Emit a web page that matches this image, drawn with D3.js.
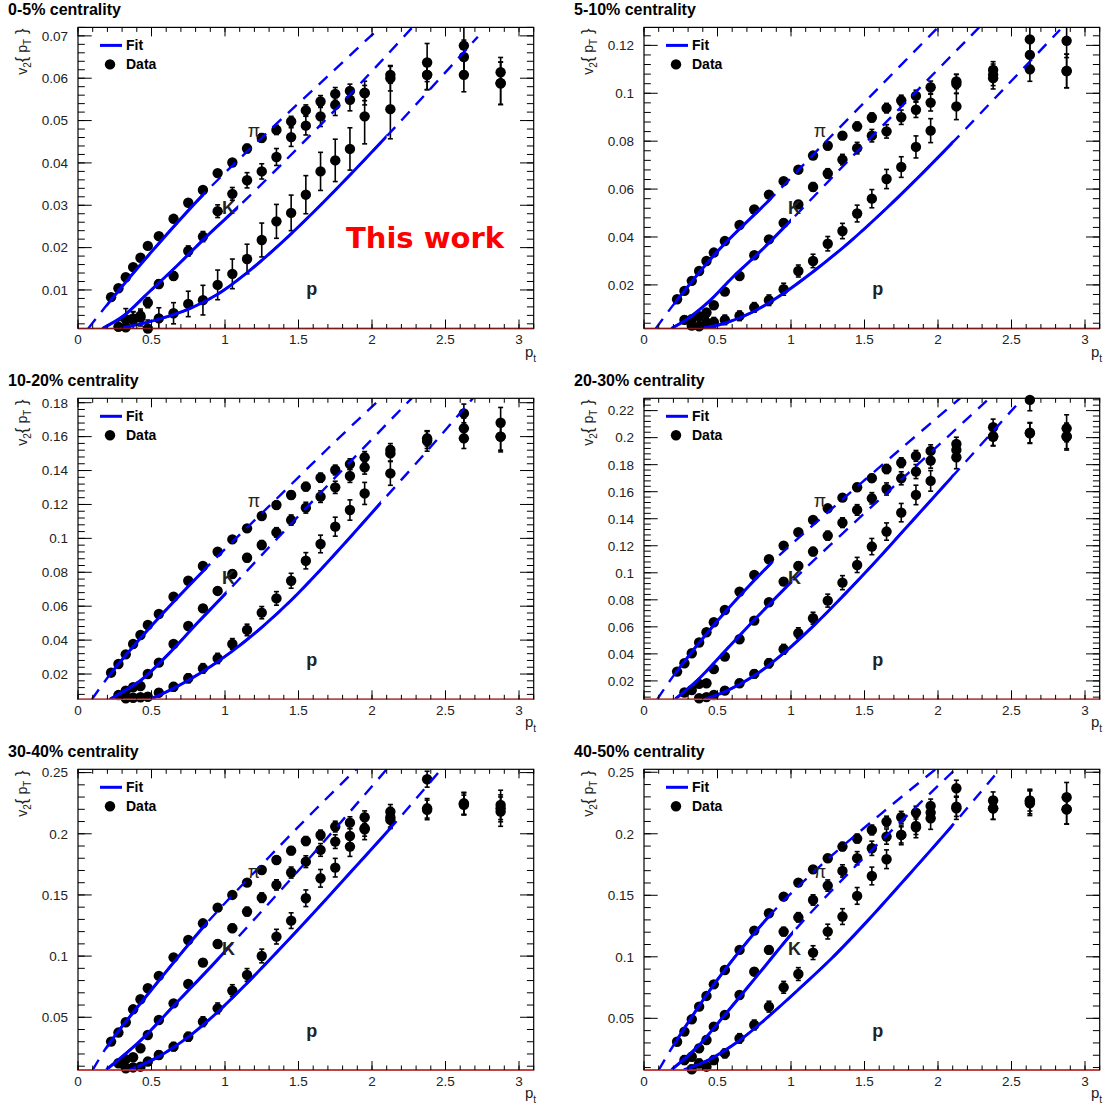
<!DOCTYPE html>
<html><head><meta charset="utf-8">
<script src="https://cdn.jsdelivr.net/npm/d3@7"></script>
<style>body{margin:0;background:#fff}</style>
</head><body><svg id="c" width="1103" height="1110"></svg>
<script>
// ---------------- DATA ----------------
const centralities = ["0-5%","5-10%","10-20%","20-30%","30-40%","40-50%"];
const ptPi = [0.225,0.275,0.325,0.375,0.425,0.475,0.55,0.65,0.75,0.85,0.95,1.05,1.15,1.25,1.35,1.45,1.55,1.65,1.75,1.85,1.95,2.125,2.375,2.625,2.875];
const ptK  = [0.275,0.325,0.375,0.425,0.475,0.55,0.65,0.75,0.85,0.95,1.05,1.15,1.25,1.35,1.45,1.55,1.65,1.75,1.85,1.95,2.125,2.375,2.625,2.875];
const ptP  = [0.325,0.375,0.425,0.475,0.55,0.65,0.75,0.85,0.95,1.05,1.15,1.25,1.35,1.45,1.55,1.65,1.75,1.85,1.95,2.125,2.375,2.625,2.875];
const xTicks = [0,0.5,1,1.5,2,2.5,3];
const xRange = [0,3.1];
const yRanges = [[0.0009,0.0720],[0.0018,0.1275],[0.0051,0.1826],[0.0064,0.2291],[0.0069,0.2527],[0.008,0.2524]];
const yTicks = [
 [0.01,0.02,0.03,0.04,0.05,0.06,0.07],
 [0.02,0.04,0.06,0.08,0.1,0.12],
 [0.02,0.04,0.06,0.08,0.1,0.12,0.14,0.16,0.18],
 [0.02,0.04,0.06,0.08,0.1,0.12,0.14,0.16,0.18,0.2,0.22],
 [0.05,0.1,0.15,0.2,0.25],
 [0.05,0.1,0.15,0.2,0.25]];

const piV2 = [
 [0.0083,0.0104,0.0130,0.0154,0.0176,0.0204,0.0227,0.0268,0.0306,0.0336,0.0376,0.0401,0.0434,0.0459,0.0478,0.0498,0.0524,0.0545,0.0563,0.0570,0.0565,0.0608,0.0637,0.0677,0.0614],
 [0.0140,0.0175,0.0217,0.0258,0.0300,0.0335,0.0383,0.0450,0.0515,0.0577,0.0633,0.0681,0.0740,0.0781,0.0823,0.0862,0.0899,0.0938,0.0970,0.0989,0.1025,0.1049,0.1097,0.1225,0.1219],
 [0.0208,0.0259,0.0316,0.0377,0.0430,0.0489,0.0554,0.0656,0.0750,0.0837,0.0921,0.0994,0.1059,0.1132,0.1197,0.1256,0.1305,0.1358,0.1403,0.1438,0.1478,0.1521,0.1590,0.1737,0.1682],
 [0.0269,0.0331,0.0405,0.0484,0.0560,0.0634,0.0725,0.0861,0.0984,0.1100,0.1201,0.1300,0.1391,0.1477,0.1556,0.1633,0.1700,0.1768,0.1815,0.1865,0.1902,0.1953,0.2077,0.2279,0.2069],
 [0.0301,0.0375,0.0459,0.0565,0.0647,0.0737,0.0838,0.0990,0.1132,0.1268,0.1396,0.1500,0.1601,0.1704,0.1786,0.1862,0.1941,0.1990,0.2059,0.2091,0.2135,0.2181,0.2446,0.2236,0.2236],
 [0.0310,0.0392,0.0492,0.0595,0.0682,0.0776,0.0893,0.1056,0.1213,0.1354,0.1489,0.1603,0.1711,0.1801,0.1896,0.1961,0.2031,0.2099,0.2134,0.2172,0.2226,0.2370,0.2270,0.2270,0.2297]];
const piErr = [
 [0.0004,0.0004,0.0004,0.0004,0.0005,0.0005,0.0005,0.0006,0.0006,0.0007,0.0007,0.0008,0.0010,0.0010,0.0011,0.0012,0.0013,0.0014,0.0015,0.0016,0.0018,0.0020,0.0045,0.0060,0.0035],
 [0.0006,0.0006,0.0006,0.0006,0.0007,0.0007,0.0008,0.0008,0.0009,0.0010,0.0010,0.0012,0.0013,0.0015,0.0016,0.0018,0.0019,0.0020,0.0022,0.0024,0.0026,0.0030,0.0035,0.0050,0.0070],
 [0.0008,0.0008,0.0008,0.0009,0.0009,0.0010,0.0010,0.0011,0.0012,0.0013,0.0014,0.0015,0.0017,0.0019,0.0021,0.0023,0.0025,0.0027,0.0029,0.0031,0.0034,0.0038,0.0045,0.0055,0.0090],
 [0.0010,0.0010,0.0011,0.0011,0.0012,0.0012,0.0013,0.0014,0.0015,0.0016,0.0018,0.0020,0.0022,0.0024,0.0026,0.0028,0.0030,0.0033,0.0036,0.0040,0.0045,0.0050,0.0060,0.0080,0.0100],
 [0.0012,0.0012,0.0013,0.0013,0.0014,0.0014,0.0015,0.0016,0.0018,0.0020,0.0022,0.0024,0.0026,0.0028,0.0030,0.0033,0.0036,0.0040,0.0044,0.0048,0.0052,0.0058,0.0065,0.0080,0.0120],
 [0.0013,0.0013,0.0014,0.0014,0.0015,0.0015,0.0016,0.0018,0.0020,0.0022,0.0024,0.0026,0.0028,0.0030,0.0033,0.0036,0.0040,0.0044,0.0048,0.0052,0.0056,0.0065,0.0070,0.0085,0.0120]];
const kV2 = [
 [0.0013,0.0031,0.0033,0.0039,0.0070,0.0114,0.0133,0.0192,0.0226,0.0286,0.0327,0.0359,0.0380,0.0414,0.0461,0.0488,0.0510,0.0537,0.0549,0.0565,0.0600,0.0608,0.0650,0.0588],
 [0.0054,0.0057,0.0069,0.0085,0.0115,0.0172,0.0237,0.0324,0.0390,0.0459,0.0536,0.0609,0.0665,0.0723,0.0771,0.0823,0.0841,0.0900,0.0931,0.0961,0.1039,0.1077,0.1160,0.1093],
 [0.0076,0.0102,0.0122,0.0129,0.0200,0.0267,0.0377,0.0483,0.0587,0.0690,0.0790,0.0886,0.0961,0.1035,0.1108,0.1181,0.1246,0.1301,0.1368,0.1419,0.1501,0.1580,0.1649,0.1600],
 [0.0114,0.0133,0.0178,0.0183,0.0287,0.0380,0.0508,0.0646,0.0782,0.0935,0.1051,0.1157,0.1275,0.1371,0.1465,0.1551,0.1620,0.1699,0.1749,0.1830,0.1909,0.2008,0.2037,0.2008],
 [0.0124,0.0157,0.0173,0.0247,0.0355,0.0478,0.0614,0.0772,0.0947,0.1099,0.1228,0.1364,0.1478,0.1582,0.1683,0.1772,0.1868,0.1936,0.1982,0.2045,0.2113,0.2208,0.2244,0.2208],
 [0.0161,0.0188,0.0256,0.0324,0.0432,0.0527,0.0690,0.0879,0.1056,0.1205,0.1321,0.1462,0.1579,0.1698,0.1801,0.1882,0.1977,0.1991,0.2064,0.2172,0.2221,0.2207,0.2248,0.2199]];
const kErr = [
 [0.0015,0.0025,0.0015,0.0012,0.0012,0.0010,0.0010,0.0012,0.0012,0.0015,0.0015,0.0018,0.0018,0.0020,0.0022,0.0022,0.0024,0.0025,0.0026,0.0028,0.0030,0.0035,0.0040,0.0050],
 [0.0015,0.0015,0.0015,0.0012,0.0012,0.0012,0.0012,0.0013,0.0014,0.0015,0.0016,0.0018,0.0020,0.0022,0.0024,0.0026,0.0028,0.0030,0.0032,0.0035,0.0040,0.0045,0.0060,0.0070],
 [0.0020,0.0018,0.0016,0.0015,0.0014,0.0014,0.0015,0.0016,0.0018,0.0020,0.0022,0.0024,0.0026,0.0028,0.0030,0.0032,0.0034,0.0036,0.0038,0.0040,0.0045,0.0050,0.0060,0.0080],
 [0.0025,0.0022,0.0020,0.0020,0.0018,0.0018,0.0020,0.0022,0.0024,0.0026,0.0028,0.0030,0.0033,0.0036,0.0039,0.0042,0.0045,0.0048,0.0052,0.0056,0.0060,0.0066,0.0075,0.0090],
 [0.0030,0.0028,0.0026,0.0024,0.0022,0.0022,0.0024,0.0026,0.0028,0.0030,0.0033,0.0036,0.0039,0.0042,0.0045,0.0048,0.0052,0.0056,0.0060,0.0065,0.0070,0.0080,0.0090,0.0110],
 [0.0035,0.0032,0.0030,0.0028,0.0026,0.0026,0.0028,0.0030,0.0032,0.0035,0.0038,0.0042,0.0046,0.0050,0.0054,0.0058,0.0062,0.0066,0.0070,0.0075,0.0080,0.0090,0.0100,0.0120]];
const pV2 = [
 [0.0012,0.0029,0.0035,0.0009,0.0033,0.0045,0.0067,0.0076,0.0112,0.0138,0.0173,0.0218,0.0262,0.0282,0.0325,0.0380,0.0406,0.0433,0.0510,0.0527,0.0608,0.0608,0.0588],
 [0.0030,0.0027,0.0043,0.0044,0.0054,0.0071,0.0106,0.0136,0.0182,0.0258,0.0300,0.0372,0.0425,0.0498,0.0560,0.0642,0.0692,0.0776,0.0844,0.0945,0.1063,0.1100,0.1093],
 [0.0057,0.0060,0.0063,0.0066,0.0090,0.0125,0.0175,0.0233,0.0292,0.0377,0.0460,0.0562,0.0646,0.0750,0.0868,0.0967,0.1069,0.1167,0.1265,0.1383,0.1574,0.1590,0.1600],
 [0.0060,0.0072,0.0080,0.0096,0.0128,0.0183,0.0252,0.0331,0.0434,0.0553,0.0664,0.0794,0.0927,0.1058,0.1194,0.1305,0.1445,0.1576,0.1680,0.1855,0.2008,0.2032,0.2008],
 [0.0083,0.0090,0.0096,0.0138,0.0192,0.0260,0.0341,0.0464,0.0573,0.0718,0.0846,0.1001,0.1159,0.1290,0.1473,0.1636,0.1723,0.1895,0.2037,0.2135,0.2195,0.2249,0.2181],
 [0.0085,0.0134,0.0107,0.0161,0.0215,0.0337,0.0446,0.0595,0.0752,0.0860,0.1034,0.1205,0.1327,0.1495,0.1657,0.1793,0.1991,0.2053,0.2126,0.2207,0.2207,0.2262,0.2199]];
const pErr = [
 [0.0020,0.0020,0.0020,0.0020,0.0025,0.0025,0.0030,0.0035,0.0035,0.0035,0.0035,0.0040,0.0040,0.0042,0.0045,0.0045,0.0050,0.0050,0.0065,0.0070,0.0035,0.0040,0.0050],
 [0.0020,0.0020,0.0020,0.0020,0.0020,0.0020,0.0020,0.0022,0.0025,0.0025,0.0028,0.0030,0.0032,0.0035,0.0038,0.0040,0.0043,0.0046,0.0050,0.0055,0.0045,0.0050,0.0070],
 [0.0020,0.0020,0.0020,0.0020,0.0022,0.0024,0.0026,0.0028,0.0030,0.0032,0.0034,0.0036,0.0040,0.0044,0.0048,0.0052,0.0056,0.0060,0.0065,0.0070,0.0060,0.0060,0.0090],
 [0.0025,0.0025,0.0025,0.0025,0.0026,0.0028,0.0030,0.0033,0.0036,0.0040,0.0044,0.0048,0.0052,0.0056,0.0060,0.0064,0.0068,0.0072,0.0076,0.0085,0.0070,0.0075,0.0100],
 [0.0030,0.0030,0.0030,0.0030,0.0032,0.0034,0.0036,0.0040,0.0044,0.0048,0.0052,0.0056,0.0060,0.0064,0.0068,0.0072,0.0076,0.0080,0.0085,0.0080,0.0080,0.0090,0.0120],
 [0.0035,0.0035,0.0035,0.0035,0.0036,0.0038,0.0040,0.0044,0.0048,0.0052,0.0056,0.0060,0.0064,0.0068,0.0072,0.0076,0.0080,0.0085,0.0090,0.0090,0.0090,0.0100,0.0120]];

// Fit curves: [pT, v2]; drawn dashed over the whole curve, solid over the fit range
const piFit = [
 [[0.07,0.0009],[0.2,0.0066],[0.5,0.0190],[0.86,0.0328],[1.3,0.0476],[1.7,0.0605],[2.06,0.0722]],
 [[0.08,0.0018],[0.21,0.0125],[0.5,0.0340],[0.87,0.0565],[1.2,0.0775],[1.6,0.1025],[2.0,0.1275]],
 [[0.095,0.0051],[0.22,0.0200],[0.5,0.0485],[0.88,0.0833],[1.3,0.1190],[1.7,0.1530],[2.06,0.1826]],
 [[0.09,0.0064],[0.21,0.0252],[0.5,0.0645],[0.87,0.1076],[1.3,0.1495],[1.75,0.1920],[2.15,0.2291]],
 [[0.1,0.0069],[0.2,0.0265],[0.5,0.0725],[0.88,0.1275],[1.3,0.1810],[1.6,0.2180],[1.92,0.2560]],
 [[0.1,0.0080],[0.216,0.0310],[0.5,0.0815],[0.87,0.1355],[1.2,0.1740],[1.6,0.2150],[2.0,0.2540]]];
const kFit = [
 [[0.165,0.0009],[0.31,0.0039],[0.48,0.0094],[0.67,0.0156],[0.9,0.0235],[1.09,0.0296],[1.38,0.0395],[1.86,0.0565],[2.28,0.0722]],
 [[0.185,0.0018],[0.3,0.0060],[0.45,0.0135],[0.6,0.0230],[0.8,0.0345],[1.0,0.0470],[1.4,0.0725],[1.8,0.0975],[2.28,0.1275]],
 [[0.215,0.0051],[0.43,0.0165],[0.62,0.0322],[0.81,0.0499],[1.01,0.0680],[1.4,0.1040],[1.85,0.1450],[2.27,0.1826]],
 [[0.21,0.0064],[0.365,0.0207],[0.558,0.0429],[0.75,0.0651],[1.01,0.0940],[1.4,0.1340],[1.8,0.1740],[2.35,0.2291]],
 [[0.19,0.0069],[0.43,0.0315],[0.667,0.0614],[0.905,0.0914],[1.02,0.1065],[1.5,0.1700],[2.1,0.2527]],
 [[0.185,0.0080],[0.365,0.0270],[0.558,0.0540],[0.8,0.0890],[1.014,0.1200],[1.4,0.1690],[1.8,0.2160],[2.15,0.2560]]];
const pFit = [
 [[0.29,0.0009],[0.55,0.0031],[0.76,0.0056],[0.95,0.0090],[1.14,0.0138],[1.38,0.0210],[1.62,0.0290],[1.86,0.0375],[2.1,0.0463],[2.4,0.0576],[2.72,0.0698]],
 [[0.39,0.0018],[0.55,0.0040],[0.75,0.0090],[0.95,0.0165],[1.15,0.0255],[1.4,0.0380],[1.65,0.0520],[1.9,0.0670],[2.1,0.0795],[2.45,0.1020],[2.83,0.1265]],
 [[0.49,0.0051],[0.65,0.0115],[0.85,0.0215],[1.05,0.0335],[1.25,0.0475],[1.45,0.0635],[1.65,0.0815],[1.85,0.1005],[2.06,0.1210],[2.4,0.1540],[2.7,0.1840]],
 [[0.41,0.0064],[0.56,0.0125],[0.76,0.0245],[0.96,0.0415],[1.16,0.0615],[1.36,0.0835],[1.56,0.1065],[1.76,0.1305],[2.1,0.1715],[2.55,0.2260]],
 [[0.345,0.0064],[0.548,0.0178],[0.762,0.0350],[0.952,0.0545],[1.143,0.0770],[1.381,0.1068],[1.619,0.1375],[1.857,0.1690],[2.14,0.2065],[2.47,0.2527]],
 [[0.27,0.0080],[0.438,0.0161],[0.654,0.0324],[0.846,0.0514],[1.038,0.0720],[1.279,0.0990],[1.519,0.1290],[1.76,0.1610],[2.1,0.2070],[2.42,0.2524]]];
const piSolid = [[0.2,0.86],[0.21,0.87],[0.22,0.88],[0.21,0.87],[0.2,0.88],[0.216,0.87]];
const kSolid  = [[0.165,1.09],[0.185,1.0],[0.215,1.01],[0.21,1.01],[0.19,1.02],[0.185,1.014]];
const pSolid  = [[0.29,2.1],[0.39,2.1],[0.49,2.06],[0.41,2.1],[0.345,2.14],[0.27,2.1]];

const speciesLabels = ["\u03c0","K","p"];
const legendLabels = ["Fit","Data"];
const workLabel = "This work";

// ---------------- LAYOUT ----------------
const colX = [78, 644];
const rowY = [[27.4,328.5],[398.3,699.3],[769.3,1070]];
const frameW = 455.7;
const blue = "#0000ff";
const FONT = '"Liberation Sans", Arial, Helvetica, sans-serif';
const svg = d3.select("#c").style("font-family", FONT);
const defs = svg.append("defs");
const fmt = v => String(+v.toFixed(4));

centralities.forEach((cen, i) => {
  const col = i % 2, row = Math.floor(i / 2);
  const x0 = colX[col], x1 = x0 + frameW;
  const [top, bot] = rowY[row];
  const x = d3.scaleLinear().domain(xRange).range([x0, x1]);
  const y = d3.scaleLinear().domain(yRanges[i]).range([bot, top]);
  const g = svg.append("g");
  const clipId = "clip" + i;
  defs.append("clipPath").attr("id", clipId).append("rect")
     .attr("x", x0).attr("y", top).attr("width", frameW).attr("height", bot - top);

  // title
  g.append("text").attr("x", x0 - 70).attr("y", top - 12).attr("font-size", 16)
   .attr("font-weight", "bold").text(cen + " centrality");

  // data: error bars + markers
  const sets = [[ptPi, piV2[i], piErr[i]], [ptK, kV2[i], kErr[i]], [ptP, pV2[i], pErr[i]]];
  const dg = g.append("g");
  sets.forEach(([pts, vals, errs]) => {
    pts.forEach((pt, j) => {
      const v = vals[j], e = errs[j];
      if (v < yRanges[i][0] - 1e-6 || v > yRanges[i][1]) return;
      const ylo = y(Math.max(v - e, yRanges[i][0])), yhi = y(Math.min(v + e, yRanges[i][1]));
      dg.append("line").attr("x1", x(pt)).attr("x2", x(pt)).attr("y1", ylo).attr("y2", yhi)
        .attr("stroke", "#000").attr("stroke-width", 1.6);
      [[v - e, ylo], [v + e, yhi]].forEach(([vv, yy]) => {
        if (vv > yRanges[i][0] && vv < yRanges[i][1])
          dg.append("line").attr("x1", x(pt) - 2.5).attr("x2", x(pt) + 2.5).attr("y1", yy).attr("y2", yy)
            .attr("stroke", "#000").attr("stroke-width", 1.6);
      });
    });
  });
  sets.forEach(([pts, vals]) => {
    pts.forEach((pt, j) => {
      const v = vals[j];
      if (v < yRanges[i][0] - 1e-6 || v > yRanges[i][1]) return;
      dg.append("circle").attr("cx", x(pt)).attr("cy", y(v)).attr("r", 5.2).attr("fill", "#000");
    });
  });

  // fits: one smooth curve per species, dashed everywhere, solid inside the fit range
  const line = d3.line().x(d => x(d[0])).y(d => y(d[1])).curve(d3.curveCatmullRom.alpha(0.5));
  const fg = g.append("g").attr("clip-path", `url(#${clipId})`);
  [[piFit[i], piSolid[i]], [kFit[i], kSolid[i]], [pFit[i], pSolid[i]]].forEach(([fit, rng], s) => {
    const d = line(fit);
    fg.append("path").attr("d", d).attr("fill", "none").attr("stroke", blue)
      .attr("stroke-width", 2.4).attr("stroke-dasharray", "12,9");
    const sid = `solid${i}_${s}`;
    defs.append("clipPath").attr("id", sid).append("rect")
      .attr("x", x(rng[0])).attr("y", top - 5).attr("width", x(rng[1]) - x(rng[0])).attr("height", bot - top + 10);
    fg.append("g").attr("clip-path", `url(#${sid})`).append("path").attr("d", d)
      .attr("fill", "none").attr("stroke", blue).attr("stroke-width", 3);
  });

  // frame
  g.append("rect").attr("x", x0).attr("y", top).attr("width", frameW).attr("height", bot - top)
   .attr("fill", "none").attr("stroke", "#000").attr("stroke-width", 1.2);
  g.append("line").attr("x1", x0).attr("x2", x1).attr("y1", bot).attr("y2", bot)
   .attr("stroke", row === 0 ? "#7a1a1a" : "#e03a3a").attr("stroke-width", 1.5);

  // ticks
  const tg = g.append("g").attr("stroke", "#000").attr("stroke-width", 1);
  const yt = yTicks[i];
  const ystep = (yt[1] - yt[0]) / 5;
  d3.range(Math.ceil(yRanges[i][0] / ystep - 1e-6), Math.floor(yRanges[i][1] / ystep + 1e-6) + 1)
    .map(k => k * ystep).forEach(v => {
      tg.append("line").attr("x1", x0).attr("x2", x0 + 6.8).attr("y1", y(v)).attr("y2", y(v));
      tg.append("line").attr("x1", x1).attr("x2", x1 - 6.8).attr("y1", y(v)).attr("y2", y(v));
    });
  yt.forEach(v => {
    tg.append("line").attr("x1", x0).attr("x2", x0 + 13.7).attr("y1", y(v)).attr("y2", y(v));
    tg.append("line").attr("x1", x1).attr("x2", x1 - 13.7).attr("y1", y(v)).attr("y2", y(v));
    g.append("text").attr("x", x0 - 10).attr("y", y(v)).attr("dy", "0.36em")
     .attr("text-anchor", "end").attr("font-size", 13.5).attr("fill", "#222").text(fmt(v));
  });
  d3.range(0, 32).map(k => k * 0.1).filter(v => v <= 3.1).forEach(v => {
    tg.append("line").attr("x1", x(v)).attr("x2", x(v)).attr("y1", bot).attr("y2", bot - 4.5);
    tg.append("line").attr("x1", x(v)).attr("x2", x(v)).attr("y1", top).attr("y2", top + 4.5);
  });
  xTicks.forEach(v => {
    tg.append("line").attr("x1", x(v)).attr("x2", x(v)).attr("y1", bot).attr("y2", bot - 9);
    tg.append("line").attr("x1", x(v)).attr("x2", x(v)).attr("y1", top).attr("y2", top + 9);
    g.append("text").attr("x", x(v)).attr("y", bot + 11).attr("dy", "0.36em")
     .attr("text-anchor", "middle").attr("font-size", 13.5).attr("fill", "#222").text(fmt(v));
  });

  // axis titles
  const xt = g.append("text").attr("x", x(3) + 6).attr("y", bot + 28)
     .attr("font-size", 15).attr("fill", "#222");
  xt.append("tspan").text("p");
  xt.append("tspan").attr("dy", 5).attr("font-size", 10).text("t");

  const ytl = g.append("text").attr("transform", `translate(${x0 - 51},${top + 1}) rotate(-90)`)
     .attr("text-anchor", "end").attr("font-size", 14).attr("fill", "#222");
  ytl.append("tspan").text("v");
  ytl.append("tspan").attr("dy", 4).attr("font-size", 10).text("2");
  ytl.append("tspan").attr("dy", -4).attr("font-size", 17).text("{");
  ytl.append("tspan").attr("font-size", 14).text(" p");
  ytl.append("tspan").attr("dy", 4).attr("font-size", 10).text("T");
  ytl.append("tspan").attr("dy", -4).attr("font-size", 17).text(" }");

  // legend
  g.append("line").attr("x1", x0 + 22).attr("x2", x0 + 44).attr("y1", top + 18).attr("y2", top + 18)
   .attr("stroke", blue).attr("stroke-width", 3);
  g.append("text").attr("x", x0 + 48).attr("y", top + 18).attr("dy", "0.36em").attr("font-size", 14)
   .attr("font-weight", "bold").text(legendLabels[0]);
  g.append("circle").attr("cx", x0 + 32).attr("cy", top + 37).attr("r", 5.2).attr("fill", "#000");
  g.append("text").attr("x", x0 + 48).attr("y", top + 37).attr("dy", "0.36em").attr("font-size", 14)
   .attr("font-weight", "bold").text(legendLabels[1]);

  // species labels (placed in frame fractions)
  const H = bot - top;
  g.append("text").attr("x", x0 + 0.386 * frameW).attr("y", top + 0.341 * H).attr("dy", "0.36em")
   .attr("text-anchor", "middle").attr("font-size", 18).attr("fill", "#222").text(speciesLabels[0]);
  g.append("text").attr("x", x0 + 0.33 * frameW).attr("y", top + 0.597 * H).attr("dy", "0.36em")
   .attr("text-anchor", "middle").attr("font-size", 18).attr("font-weight", "bold").attr("fill", "#222").text(speciesLabels[1]);
  g.append("text").attr("x", x0 + 0.513 * frameW).attr("y", top + 0.872 * H).attr("dy", "0.3em")
   .attr("text-anchor", "middle").attr("font-size", 18).attr("font-weight", "bold").attr("fill", "#222").text(speciesLabels[2]);

  if (i === 0) {
    g.append("text").attr("x", x0 + 268).attr("y", top + 0.697 * H).attr("dy", "0.36em")
     .style("font-family", '"DejaVu Sans", Verdana, sans-serif').attr("font-weight", "bold").attr("font-size", 29)
     .attr("fill", "#ff0000").text(workLabel);
  }
});
</script></body></html>
